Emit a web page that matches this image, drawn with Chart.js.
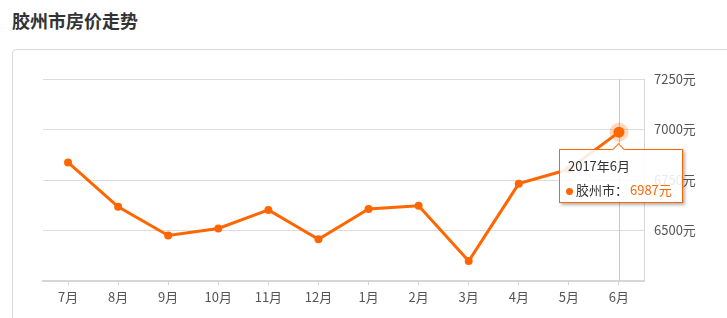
<!DOCTYPE html>
<html>
<head>
<meta charset="utf-8">
<script src="https://cdn.jsdelivr.net/npm/chart.js@4/dist/chart.umd.min.js"></script>
<style>
  html, body { margin: 0; padding: 0; background: #fff; width: 727px; height: 318px; overflow: hidden; }
  body { position: relative; font-family: 'Noto Sans CJK SC', 'Noto Sans', sans-serif; }
  #title { position: absolute; left: 12px; top: 8px; font-size: 18px; line-height: 24px; font-weight: bold; color: #333; white-space: nowrap; }
  #card { position: absolute; left: 12px; top: 49px; width: 800px; height: 400px; border: 1px solid #dadada; border-radius: 4px; box-sizing: border-box; }
  #c { position: absolute; left: 0; top: 0; }
  #tip { position: absolute; width: 124px; height: 54px; box-sizing: border-box; border: 1px solid #ff6600; background: rgba(255,255,255,0.88); box-shadow: 2px 2px 3px rgba(0,0,0,0.3); font-size: 13px; color: #333; z-index: 5; }
  #tip .caret { position: absolute; top: -5px; width: 9px; height: 9px; background: #fff; border-left: 1px solid #ff6600; border-top: 1px solid #ff6600; transform: rotate(45deg); box-sizing: border-box; }
  #tip .t1 { position: absolute; left: 8px; top: 6px; line-height: 20px; white-space: nowrap; }
  #tip .t2 { position: absolute; left: 6px; top: 30px; line-height: 20px; white-space: nowrap; width: 114px; }
  #tip .dot { display: inline-block; width: 7px; height: 7px; border-radius: 50%; background: #ff6600; margin-right: 3px; vertical-align: 0px; }
  #tip .val { position: absolute; left: 64px; color: #ff6600; }
</style>
</head>
<body>
<div id="title">胶州市房价走势</div>
<div id="card"></div>
<canvas id="c" width="727" height="318"></canvas>
<div id="tip"><div class="caret"></div><div class="t1"></div><div class="t2"><span class="dot"></span><span class="name"></span><span class="val"></span></div></div>
<script>
const categories = ['7月','8月','9月','10月','11月','12月','1月','2月','3月','4月','5月','6月'];
const values = [6837, 6617, 6475, 6510, 6602, 6457, 6606, 6622, 6349, 6732, 6803, 6987];
const seriesName = '胶州市';
const tooltipTitle = '2017年6月';
const yTicks = [6250, 6500, 6750, 7000, 7250];
const activeIndex = 11;
const ORANGE = '#ff6600';

Chart.defaults.font.family = "'Noto Sans CJK SC', 'Noto Sans', sans-serif";
Chart.defaults.font.size = 13;
Chart.defaults.color = '#555';

const hoverPlugin = {
  id: 'hoverDeco',
  beforeDatasetsDraw(chart) {
    const pt = chart.getDatasetMeta(0).data[activeIndex];
    const ctx = chart.ctx, a = chart.chartArea;
    ctx.save();
    ctx.strokeStyle = '#c8c8c8';
    ctx.lineWidth = 1;
    ctx.beginPath();
    ctx.moveTo(Math.round(pt.x) + 0.5, a.top);
    ctx.lineTo(Math.round(pt.x) + 0.5, a.bottom);
    ctx.stroke();
    ctx.restore();
  },
  afterDatasetsDraw(chart) {
    const pt = chart.getDatasetMeta(0).data[activeIndex];
    const ctx = chart.ctx;
    ctx.save();
    ctx.fillStyle = 'rgba(255,102,0,0.25)';
    ctx.beginPath(); ctx.arc(pt.x, pt.y, 9.5, 0, Math.PI * 2); ctx.fill();
    ctx.fillStyle = ORANGE;
    ctx.beginPath(); ctx.arc(pt.x, pt.y, 5.5, 0, Math.PI * 2); ctx.fill();
    ctx.restore();
  }
};

const chart = new Chart(document.getElementById('c'), {
  type: 'line',
  data: {
    labels: categories,
    datasets: [{
      label: seriesName,
      data: values,
      borderColor: ORANGE,
      backgroundColor: ORANGE,
      borderWidth: 3,
      pointRadius: 4,
      pointBorderWidth: 0,
      pointBackgroundColor: ORANGE,
      tension: 0,
      fill: false
    }]
  },
  options: {
    responsive: false,
    animation: false,
    events: [],
    layout: { padding: { left: 43, top: 79, right: 0, bottom: 0 } },
    plugins: { legend: { display: false }, tooltip: { enabled: false } },
    scales: {
      x: {
        offset: true,
        grid: { display: true, drawOnChartArea: false, drawTicks: true, tickLength: 4, color: '#d4d4d4', offset: false },
        border: { display: true, color: '#d6d6d6', width: 2 },
        ticks: { padding: 4, color: '#555', font: { size: 13 }, maxRotation: 0, autoSkip: false },
        afterFit(s) { s.height = 37; }
      },
      y: {
        position: 'right',
        min: yTicks[0],
        max: yTicks[yTicks.length - 1],
        afterBuildTicks(s) { s.ticks = yTicks.map(v => ({ value: v })); },
        grid: { color: '#dcdcdc', drawTicks: false, lineWidth: 1 },
        border: { display: true, color: '#d6d6d6', width: 1 },
        ticks: { padding: 10, color: '#555', font: { size: 13 }, callback: v => v === yTicks[0] ? '' : v + '元' },
        afterFit(s) { s.width = 83; }
      }
    }
  },
  plugins: [hoverPlugin]
});

// tooltip placed from the library's computed point position
const pt = chart.getDatasetMeta(0).data[activeIndex];
const tip = document.getElementById('tip');
tip.querySelector('.t1').textContent = tooltipTitle;
tip.querySelector('.name').textContent = seriesName + '：';
tip.querySelector('.val').textContent = values[activeIndex] + '元';
const tipLeft = pt.x - 60;
tip.style.left = tipLeft + 'px';
tip.style.top = (pt.y + 17) + 'px';
tip.querySelector('.caret').style.left = (pt.x - tipLeft - 5.5) + 'px';
</script>
</body>
</html>
